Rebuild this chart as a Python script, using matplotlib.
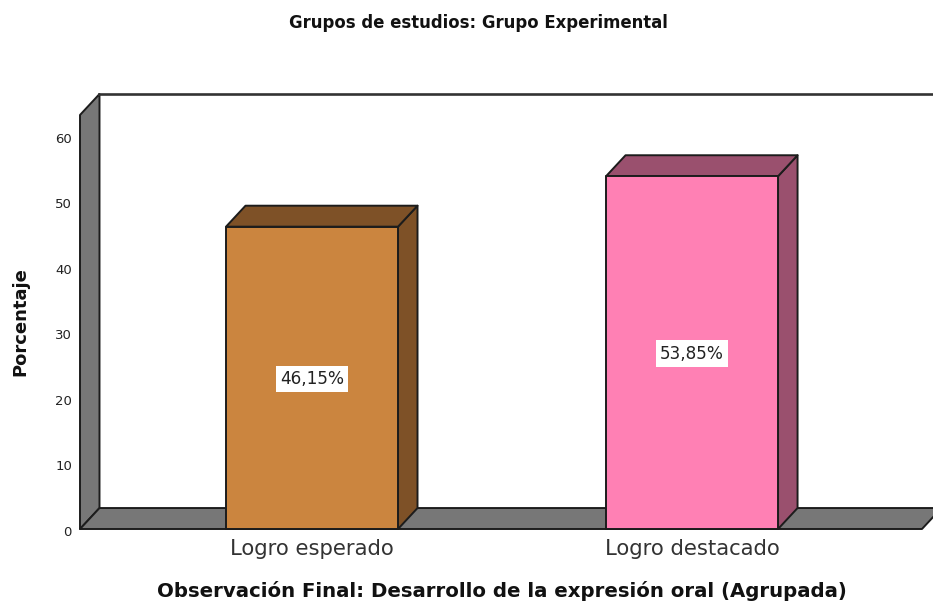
import matplotlib
matplotlib.use("Agg")
import matplotlib.pyplot as plt
from matplotlib.patches import Polygon
from matplotlib.transforms import ScaledTranslation

categories = ["Logro esperado", "Logro destacado"]
values = [46.15, 53.85]
y_ticks = [0, 10, 20, 30, 40, 50, 60]
title = "Grupos de estudios: Grupo Experimental"
x_title = "Observación Final: Desarrollo de la expresión oral (Agrupada)"
y_title = "Porcentaje"

front_colors = ["#CB853F", "#FF80B4"]
side_colors = ["#7E5127", "#9A506E"]
wall_color = "#777777"
edge = "#1c1c1c"

W, H = 933, 603
# the original text is a wide hinted Arial, DejaVu gets closest in width
plt.rcParams["font.family"] = ["DejaVu Sans"]

fig = plt.figure(figsize=(W / 100, H / 100), dpi=100, facecolor="white")
# axes box in pixels: x 80..933, y 94..529
ax = fig.add_axes([80 / W, 1 - 529 / H, (W - 80) / W, (529 - 94) / H])
ax.set_xlim(-0.6105, 1.634)
ax.set_ylim(0, 66.4)
ax.patch.set_visible(False)
for s in ax.spines.values():
    s.set_visible(False)

# depth of the fake 3D box, in data units
dx = 0.0513
dy = 3.2
left, right = -0.6105, 1.605
top = 63.2
bar_w = 0.4526


def poly(pts, color, z):
    ax.add_patch(Polygon(pts, closed=True, facecolor=color, edgecolor=edge,
                         linewidth=1.4, joinstyle="round", zorder=z,
                         clip_on=False))


# side wall and floor
poly([(left, 0), (left + dx, dy), (left + dx, top + dy), (left, top)], wall_color, 1)
poly([(left, 0), (right, 0), (right + dx, dy), (left + dx, dy)], wall_color, 1)
ax.plot([left + dx, 1.7], [top + dy, top + dy], color="#333333", lw=1.9, zorder=1,
        clip_on=False)

for i, v in enumerate(values):
    x0, x1 = i - bar_w / 2, i + bar_w / 2
    poly([(x1, 0), (x1 + dx, dy), (x1 + dx, v + dy), (x1, v)], side_colors[i], 3)
    poly([(x0, v), (x1, v), (x1 + dx, v + dy), (x0 + dx, v + dy)], side_colors[i], 3)
    poly([(x0, 0), (x1, 0), (x1, v), (x0, v)], front_colors[i], 4)
    label = f"{v:.2f}".replace(".", ",") + "%"
    ax.text(i, v / 2 - 0.15, label, ha="center", va="center", fontsize=12.2,
            color="#222222", zorder=5,
            bbox=dict(facecolor="white", edgecolor="none", pad=3))

ax.set_yticks(y_ticks)
ax.set_xticks(range(len(categories)))
ax.set_xticklabels(categories, fontsize=15.2, color="#333333")
ax.tick_params(axis="y", length=0, pad=5.8, labelsize=9.5, labelcolor="#222222")
ax.tick_params(axis="x", length=0, pad=7.5)
# tick labels sit a little below their nominal height in the original
shift = ScaledTranslation(0, -2 / 100, fig.dpi_scale_trans)
for t in ax.get_yticklabels():
    t.set_transform(t.get_transform() + shift)

fig.text(478 / W, 1 - 23 / H, title, ha="center", va="center", fontsize=11.9,
         fontweight="bold", color="#111111")
fig.text(502 / W, 1 - 591 / H, x_title, ha="center", va="center", fontsize=14.2,
         fontweight="bold", color="#111111")
fig.text(20.5 / W, 1 - 321.5 / H, y_title, ha="center", va="center", rotation=90,
         fontsize=13, fontweight="bold", color="#111111")

fig.savefig("out.png", dpi=100)
